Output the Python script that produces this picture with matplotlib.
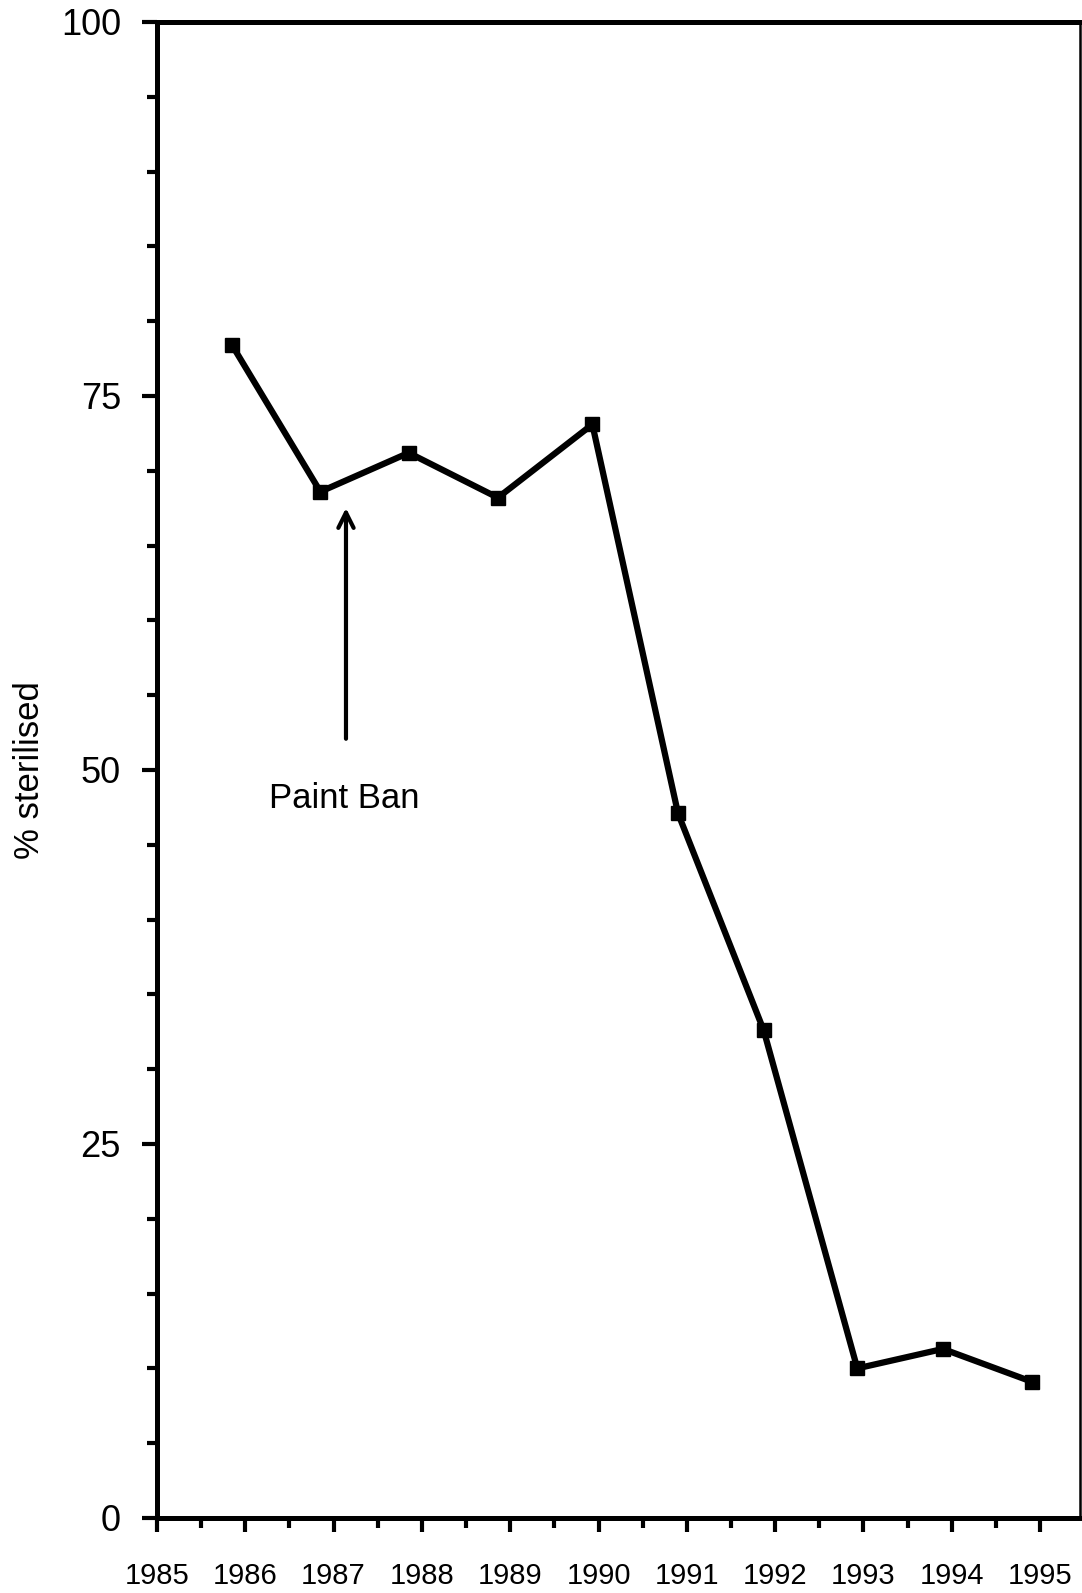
import numpy as np
import matplotlib.pyplot as plt
from matplotlib.ticker import MultipleLocator

plt.rcParams['font.family'] = ['Liberation Sans', 'DejaVu Sans']

# values
years = [1985.85, 1986.85, 1987.85, 1988.86, 1989.93,
         1990.90, 1991.87, 1992.93, 1993.90, 1994.91]
sterilised = [78.4, 68.6, 71.2, 68.2, 73.1, 47.1, 32.6, 10.0, 11.3, 9.1]
year_ticks = list(range(1985, 1996))
pct_ticks = [0, 25, 50, 75, 100]

fig = plt.figure(figsize=(10.82, 15.93), dpi=100)
ax = fig.add_axes([0.1451, 0.0471, 0.998 - 0.1451, 0.9862 - 0.0471])

ax.plot(years, sterilised, color='black', lw=4.5, marker='s', ms=10,
        solid_joinstyle='miter')

ax.set_xlim(1985, 1995.45)
ax.set_ylim(0, 100)
ax.set_xticks(year_ticks)
ax.set_xticklabels([str(y) for y in year_ticks], fontsize=21)
ax.xaxis.set_minor_locator(MultipleLocator(0.5))
ax.set_yticks(pct_ticks)
ax.set_yticklabels([str(p) for p in pct_ticks], fontsize=26)
ax.yaxis.set_minor_locator(MultipleLocator(5))

ax.tick_params(axis='x', which='major', direction='out', length=10, width=3, pad=22)
ax.tick_params(axis='x', which='minor', direction='out', length=7, width=3)
ax.tick_params(axis='y', which='major', direction='out', length=11, width=3, pad=15)
ax.tick_params(axis='y', which='minor', direction='out', length=7, width=3)

for side in ['left', 'bottom', 'top']:
    ax.spines[side].set_linewidth(3.6)
ax.spines['right'].set_linewidth(1.8)

ax.set_ylabel('% sterilised', fontsize=25)
ax.yaxis.set_label_coords(-0.12, 0.5)

ax.annotate('', xy=(1987.14, 67.7), xytext=(1987.14, 51.9),
            arrowprops=dict(arrowstyle='->,head_length=1.1,head_width=0.55',
                            color='black', lw=3))
ax.text(1987.12, 48.1, 'Paint Ban', fontsize=25, ha='center', va='center')

fig.savefig('out.png', dpi=100)
